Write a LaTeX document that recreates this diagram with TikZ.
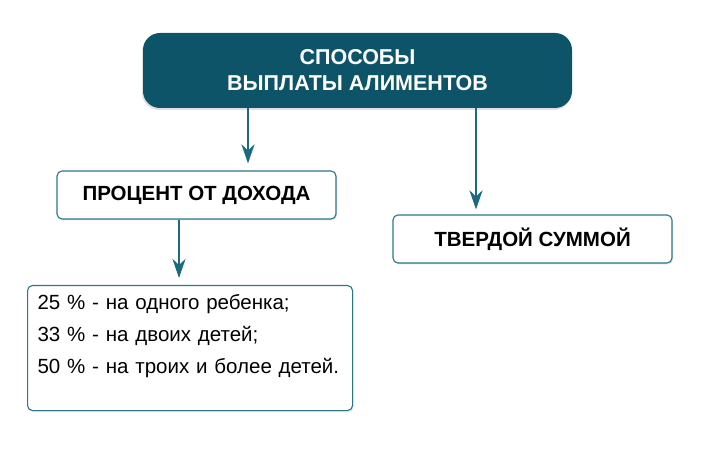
\documentclass[tikz,border=0pt]{standalone}
\usepackage{fontspec}
\setmainfont{Liberation Sans}
\usepackage{xcolor}
\usepackage{tikz}
\usetikzlibrary{arrows.meta,shadows}

\definecolor{darkteal}{HTML}{0E5468}
\definecolor{lineteal}{HTML}{1C6A80}
\definecolor{boxteal}{HTML}{2B7787}

\begin{document}
\begin{tikzpicture}[x=1pt, y=1pt,
    mainbox/.style={rectangle, rounded corners=17pt, fill=darkteal, text=white, font=\fontsize{21.5}{26}\selectfont\bfseries, align=center, minimum width=429pt, minimum height=75pt, drop shadow={shadow xshift=-1pt, shadow yshift=-2pt, opacity=0.25}},
    subbox/.style={rectangle, rounded corners=5pt, draw=boxteal, line width=1.1pt, fill=white, font=\fontsize{20.5}{24}\selectfont\bfseries, minimum width=279pt, minimum height=48pt, drop shadow={shadow xshift=1pt, shadow yshift=-1.5pt, opacity=0.2}},
    link/.style={-{Stealth[length=19pt, width=13pt, inset=6pt]}, line width=2.6pt, draw=lineteal}]
			\useasboundingbox (0,0) rectangle (703,460);
			% Nodes
			\node[mainbox] (ways) at (357.5,389.5) {СПОСОБЫ\\ВЫПЛАТЫ АЛИМЕНТОВ};
			\node[subbox] (percent) at (196.5,265) {ПРОЦЕНТ ОТ ДОХОДА};
			\node[subbox] (fixed) at (532.5,221) {ТВЕРДОЙ СУММОЙ};
			\node[subbox, font=\fontsize{20.5}{32}\selectfont, align=left, text width=305pt, minimum width=325pt, anchor=north west, inner sep=0pt, inner xsep=10pt] (shares) at (27,175)
				{\rule{0pt}{24pt}25 \% - на одного ребенка;\\33 \% - на двоих детей;\\50 \% - на троих и более детей.\rule[-37pt]{0pt}{37pt}};
			% Edges
			\draw[link, shorten >=7pt] ([xshift=-109.5pt]ways.south) -- ([xshift=51.5pt]percent.north);
			\draw[link, shorten >=5pt] ([xshift=118.5pt]ways.south) -- ([xshift=-56.5pt]fixed.north);
			\draw[link, shorten >=7pt] ([xshift=-17.5pt]percent.south) -- ([xshift=-17.5pt]percent.south |- shares.north);
		\end{tikzpicture}
\end{document}
